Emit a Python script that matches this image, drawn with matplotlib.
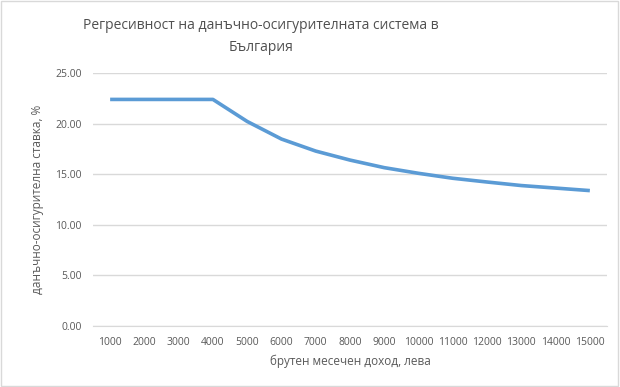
import matplotlib.pyplot as plt
from matplotlib.patches import Rectangle

plt.rcParams['font.family'] = ['Open Sans', 'DejaVu Sans']

# gross monthly income, leva
income = [1000, 2000, 3000, 4000, 5000, 6000, 7000, 8000,
          9000, 10000, 11000, 12000, 13000, 14000, 15000]
# effective tax + social security rate, %
rate = [22.40, 22.40, 22.40, 22.40, 20.22, 18.48, 17.29, 16.40,
        15.65, 15.09, 14.60, 14.23, 13.88, 13.63, 13.38]

labels = [str(v) for v in income]
pos = list(range(len(income)))

fig = plt.figure(figsize=(6.2, 3.87), dpi=100)
ax = fig.add_axes([0.15, 0.158, 0.829, 0.653])

ax.plot(pos, rate, color="#5B9BD5", linewidth=2.6, solid_capstyle="butt")

ax.set_xlim(-0.5, len(income) - 0.5)
ax.set_ylim(0, 25)
ax.set_yticks([0, 5, 10, 15, 20, 25])
ax.set_yticklabels(["%.2f" % v for v in [0, 5, 10, 15, 20, 25]])
ax.set_xticks(pos)
ax.set_xticklabels(labels)
ax.yaxis.grid(True, color="#D9D9D9", linewidth=1)
ax.set_axisbelow(True)
for s in ["top", "right", "left"]:
    ax.spines[s].set_visible(False)
ax.spines["bottom"].set_color("#D9D9D9")
ax.tick_params(length=0, labelsize=7.5, colors="#595959", pad=8)

ax.set_xlabel("брутен месечен доход, лева", fontsize=8.5, color="#595959", labelpad=5)
ax.set_ylabel("данъчно-осигурителна ставка, %", fontsize=8.5, color="#595959", labelpad=8)

fig.text(0.421, 0.905, "Регресивност на данъчно-осигурителната система в\nБългария",
         ha="center", va="center", fontsize=10, color="#505050", linespacing=1.6)

fig.patches.append(Rectangle((0.002, 0.003), 0.995, 0.994, transform=fig.transFigure,
                             fill=False, edgecolor="#D9D9D9", linewidth=1))

fig.savefig("out.png", dpi=100)
